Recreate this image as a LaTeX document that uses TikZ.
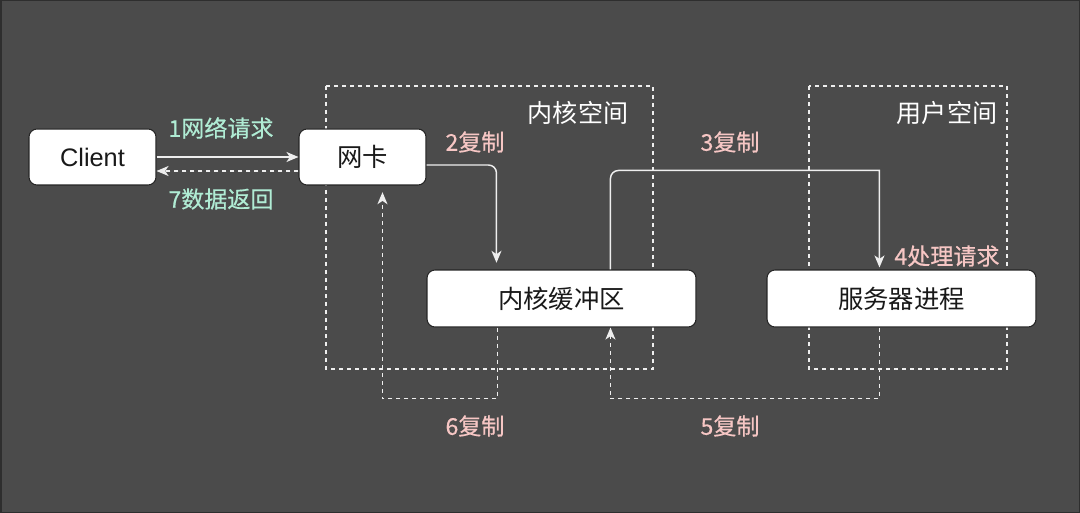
\documentclass[tikz,border=0pt]{standalone}
\usepackage{fontspec}
\setmainfont{Noto Sans CJK SC}
\newfontfamily\latinfont{Liberation Sans}
\newfontfamily\labelfont[FakeBold=0.5]{Noto Sans CJK SC}
\usetikzlibrary{arrows.meta,calc}
\definecolor{bgc}{HTML}{4B4B4B}
\definecolor{bgedge}{HTML}{2E2E2E}
\definecolor{mint}{HTML}{B0ECD4}
\definecolor{pinkl}{HTML}{F6C6C4}
\definecolor{linec}{HTML}{EEEEEE}
\tikzset{
  boxnode/.style={draw=black!85,fill=white,rounded corners=6pt,line width=0.8pt,
    text=black!90,font=\fontsize{19}{22}\selectfont,inner sep=0pt},
  spacebox/.style={draw=linec,dashed,dash pattern=on 3pt off 3pt,line width=0.9pt},
  spacelabel/.style={text=white,font=\fontsize{18.8}{21}\selectfont,inner sep=0pt},
  greenlabel/.style={text=mint,font=\labelfont\fontsize{17.3}{19}\selectfont,inner sep=0pt},
  pinklabel/.style={text=pinkl,font=\labelfont\fontsize{17.3}{19}\selectfont,inner sep=0pt},
  flow/.style={draw=linec,line width=1.1pt,-{Stealth[length=9pt,width=7.5pt,inset=2.5pt]}},
  backflow/.style={flow,dash pattern=on 3pt off 3pt},
}
\begin{document}
\begin{tikzpicture}[x=0.75pt,y=-0.75pt]
\useasboundingbox (0,0) rectangle (1080,513);
\draw[fill=bgc,draw=bgedge,line width=1.5pt] (0.5,0.5) rectangle (1079.5,512.5);

% space regions
\draw[spacebox] (326,86) rectangle (653,369);
\draw[spacebox] (809,86) rectangle (1007,369);
\node[spacelabel] (ks) at (578,113) {内核空间};
\node[spacelabel] (us) at (947,113) {用户空间};

% boxes
\node[boxnode,minimum width=95.25pt,minimum height=42pt] (cl) at (92.5,157) {\latinfont Client};
\node[boxnode,minimum width=95.25pt,minimum height=42pt] (nic) at (362.5,157) {网卡};
\node[boxnode,minimum width=201.75pt,minimum height=42.75pt] (kb) at (561.5,298.5) {内核缓冲区};
\node[boxnode,minimum width=201.75pt,minimum height=42.75pt] (sp) at (901.5,298.5) {服务器进程};

% 1 and 7
\draw[flow] (cl.east) -- (nic.west);
\draw[backflow] ($(nic.west)+(0,14)$) -- ($(cl.east)+(0,14)$);
\node[greenlabel] (l1) at (221,128) {1网络请求};
\node[greenlabel] (l7) at (221,199) {7数据返回};

% 2
\draw[flow,rounded corners=6pt,shorten >=5pt] ($(nic.east)+(0,8)$) -| ($(kb.north west)+(70,0)$);
\node[pinklabel] (l2) at (475,142) {2复制};

% 3
\coordinate (c3a) at ($(kb.north west)+(184,-99)$);
\draw[flow,shorten >=1.5pt] ($(kb.north west)+(184,0)$) [rounded corners=6pt] -- (c3a) [sharp corners] -| ($(sp.north west)+(113,0)$);
\node[pinklabel] (l3) at (730,142) {3复制};
\node[pinklabel] (l4) at (947,256) {4处理请求};

% 5
\coordinate (c5a) at ($(sp.south west)+(113,71)$);
\coordinate (c5b) at ($(kb.south west)+(184,71)$);
\draw[backflow] ($(sp.south west)+(113,0)$) -- (c5a) -- (c5b) -- ($(kb.south west)+(184,0)$);
\node[pinklabel] (l5) at (730,426) {5复制};

% 6
\coordinate (c6a) at ($(kb.south west)+(71,71)$);
\coordinate (c6b) at ($(nic.south west)+(84,213)$);
\draw[backflow,shorten >=5pt] ($(kb.south west)+(71,0)$) -- (c6a) -- (c6b) -- ($(nic.south west)+(84,0)$);
\node[pinklabel] (l6) at (475,426) {6复制};
\end{tikzpicture}
\end{document}
